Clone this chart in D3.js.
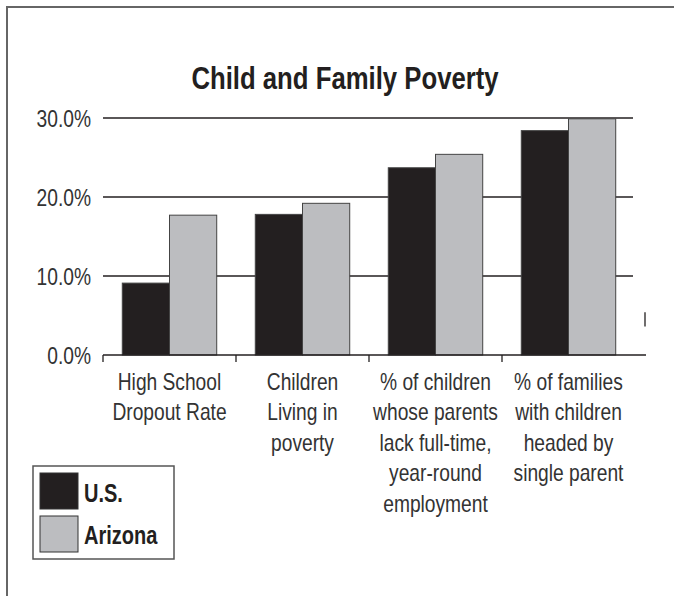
<!DOCTYPE html>
<html lang="en">
<head>
<meta charset="UTF-8">
<title>Child and Family Poverty</title>
<script src="https://d3js.org/d3.v7.min.js"></script>
<style>
    body { margin: 0; background: #fff; }
    svg text { font-family: "Liberation Sans", Arial, sans-serif; fill: #231f20; }
</style>
</head>
<body>
<svg id="chart" width="674" height="596"></svg>
<script>
    // data
    const categories = [
        ['High School', 'Dropout Rate'],
        ['Children', 'Living in', 'poverty'],
        ['% of children', 'whose parents', 'lack full-time,', 'year-round', 'employment'],
        ['% of families', 'with children', 'headed by', 'single parent']
    ];
    const seriesNames = ['U.S.', 'Arizona'];
    const usValues = [9.1, 17.8, 23.7, 28.4];
    const azValues = [17.7, 19.2, 25.4, 29.9];
    const yTicks = [0, 10, 20, 30];
    const colors = ['#231f20', '#bcbdc0'];

    const svg = d3.select('#chart');
    const squeeze = 0.8; // the original uses a condensed face

    // place text at (px,py) and squeeze it horizontally
    function at(px, py) {
        return `translate(${px},${py}) scale(${squeeze},1)`;
    }

    // outer frame (top + left only)
    svg.append('path')
        .attr('d', 'M7,596 V7 H674')
        .attr('fill', 'none')
        .attr('stroke', '#666')
        .attr('stroke-width', 2);

    const plotLeft = 103, plotRight = 635, plotTop = 118, plotBottom = 355;

    const x = d3.scaleBand().domain(d3.range(categories.length)).range([plotLeft, plotRight]).paddingInner(0.29).paddingOuter(0.145);
    const xGroup = d3.scaleBand().domain(d3.range(categories.length)).range([plotLeft, plotRight]);
    const xSub = d3.scaleBand().domain(seriesNames).range([0, x.bandwidth()]);
    const y = d3.scaleLinear().domain([0, 30]).range([plotBottom, plotTop]);

    // title
    svg.append('text')
        .attr('transform', `translate(345,89) scale(0.83,1)`)
        .attr('text-anchor', 'middle')
        .style('font-size', '31px').style('font-weight', 'bold')
        .text('Child and Family Poverty');

    // grid lines
    svg.append('g').selectAll('line')
        .data(yTicks.filter(d => d > 0))
        .enter().append('line')
        .attr('x1', plotLeft).attr('x2', plotRight - 2)
        .attr('y1', d => y(d)).attr('y2', d => y(d))
        .attr('stroke', '#231f20').attr('stroke-width', 1.3);

    // y labels
    svg.append('g').selectAll('text')
        .data(yTicks)
        .enter().append('text')
        .attr('transform', d => at(91, y(d) + 9))
        .attr('text-anchor', 'end')
        .style('font-size', '24px')
        .style('fill', '#333')
        .text(d => d.toFixed(1) + '%');

    // bars
    const rows = categories.map((c, i) => ({ i, values: [usValues[i], azValues[i]] }));
    const groups = svg.append('g').selectAll('g')
        .data(rows)
        .enter().append('g')
        .attr('transform', d => `translate(${x(d.i)},0)`);

    groups.selectAll('rect')
        .data(d => d.values.map((v, k) => ({ name: seriesNames[k], v, k })))
        .enter().append('rect')
        .attr('x', d => xSub(d.name))
        .attr('y', d => y(d.v))
        .attr('width', xSub.bandwidth())
        .attr('height', d => plotBottom - y(d.v))
        .attr('fill', d => colors[d.k])
        .attr('stroke', '#444').attr('stroke-width', 1);

    // x axis line and category ticks
    svg.append('line')
        .attr('x1', plotLeft).attr('x2', 646)
        .attr('y1', plotBottom).attr('y2', plotBottom)
        .attr('stroke', '#231f20').attr('stroke-width', 1.5);
    svg.append('g').selectAll('line')
        .data(d3.range(categories.length))
        .enter().append('line')
        .attr('x1', d => xGroup(d)).attr('x2', d => xGroup(d))
        .attr('y1', plotBottom).attr('y2', plotBottom + 7)
        .attr('stroke', '#231f20').attr('stroke-width', 1.3);
    // stray tick on the right
    svg.append('line')
        .attr('x1', 645).attr('x2', 645)
        .attr('y1', y(5.4)).attr('y2', y(3.6))
        .attr('stroke', '#231f20').attr('stroke-width', 1.3);

    // category labels
    const labels = svg.append('g').selectAll('text')
        .data(categories)
        .enter().append('text')
        .attr('transform', (d, i) => at(x(i) + x.bandwidth() / 2, 390))
        .attr('text-anchor', 'middle')
        .style('font-size', '24px')
        .style('fill', '#333');
    labels.selectAll('tspan')
        .data(d => d)
        .enter().append('tspan')
        .attr('x', 0)
        .attr('y', (d, j) => j * 30.5)
        .text(d => d);

    // legend
    const legend = svg.append('g');
    legend.append('rect')
        .attr('x', 33).attr('y', 466).attr('width', 141).attr('height', 93)
        .attr('fill', '#fff').attr('stroke', '#555').attr('stroke-width', 1.5);
    seriesNames.forEach((name, k) => {
        legend.append('rect')
            .attr('x', 40).attr('y', 473 + k * 43)
            .attr('width', 38).attr('height', 36)
            .attr('fill', colors[k]).attr('stroke', '#333').attr('stroke-width', 1);
        legend.append('text')
            .attr('transform', at(84, 502 + k * 42))
            .style('font-size', '25px').style('font-weight', 'bold')
            .text(name);
    });
</script>
</body>
</html>
